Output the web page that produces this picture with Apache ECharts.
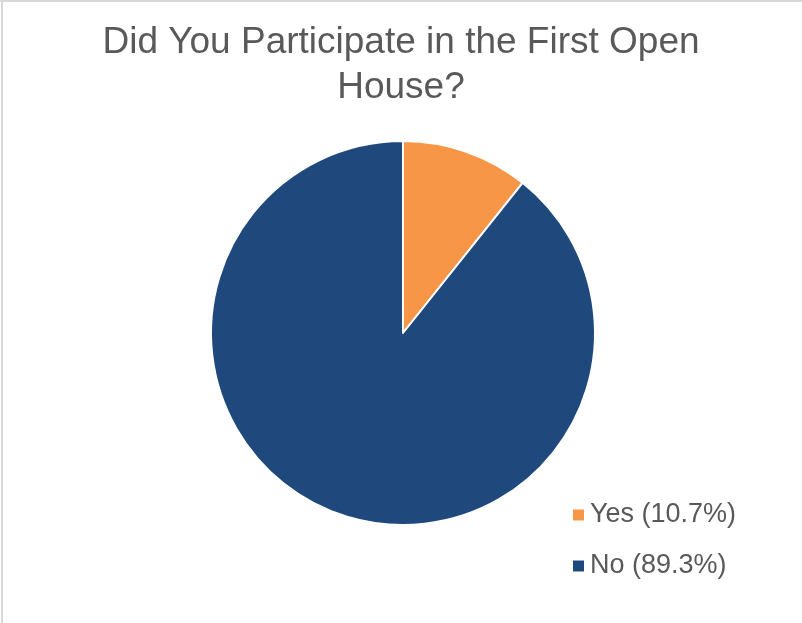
<!DOCTYPE html>
<html>
<head>
<meta charset="utf-8">
<script src="https://cdn.jsdelivr.net/npm/echarts@6/dist/echarts.min.js"></script>
<style>
html,body{margin:0;padding:0;background:#fff;}
#chart{width:802px;height:623px;}
</style>
</head>
<body>
<div id="chart"></div>
<script>
const titleText = "Did You Participate in the First Open\nHouse?";
const categories = ["Yes", "No"];
const values = [10.7, 89.3];
const colors = ["#F79646", "#1F497D"];

const chart = echarts.init(document.getElementById('chart'));
const data = categories.map((c, i) => ({ name: c, value: values[i], itemStyle: { color: colors[i] } }));
const pctMap = {};
categories.forEach((c, i) => { pctMap[c] = values[i]; });

chart.setOption({
  animation: false,
  backgroundColor: '#ffffff',
  title: {
    text: titleText,
    left: 'center',
    top: 15,
    textStyle: {
      fontFamily: 'Liberation Sans, Arial, sans-serif',
      fontSize: 37,
      fontWeight: 'normal',
      color: '#595959',
      lineHeight: 45
    }
  },
  legend: {
    orient: 'vertical',
    left: 566,
    top: 495,
    icon: 'rect',
    itemWidth: 13,
    itemHeight: 13,
    itemGap: 21,
    data: categories,
    formatter: name => name + ' (' + pctMap[name].toFixed(1) + '%)',
    textStyle: {
      fontFamily: 'Liberation Sans, Arial, sans-serif',
      fontSize: 27,
      color: '#595959',
      lineHeight: 30
    },
    selectedMode: false
  },
  graphic: [
    { type: 'line', shape: { x1: 0, y1: 1, x2: 802, y2: 1 }, style: { stroke: '#d9d9d9', lineWidth: 2 }, silent: true },
    { type: 'line', shape: { x1: 2, y1: 0, x2: 2, y2: 623 }, style: { stroke: '#d9d9d9', lineWidth: 2 }, silent: true }
  ],
  series: [{
    type: 'pie',
    center: [403, 333],
    radius: 192,
    startAngle: 90,
    clockwise: true,
    data: data,
    label: { show: false },
    labelLine: { show: false },
    itemStyle: { borderColor: '#ffffff', borderWidth: 2 },
    emphasis: { disabled: true },
    silent: true
  }]
});
</script>
</body>
</html>
